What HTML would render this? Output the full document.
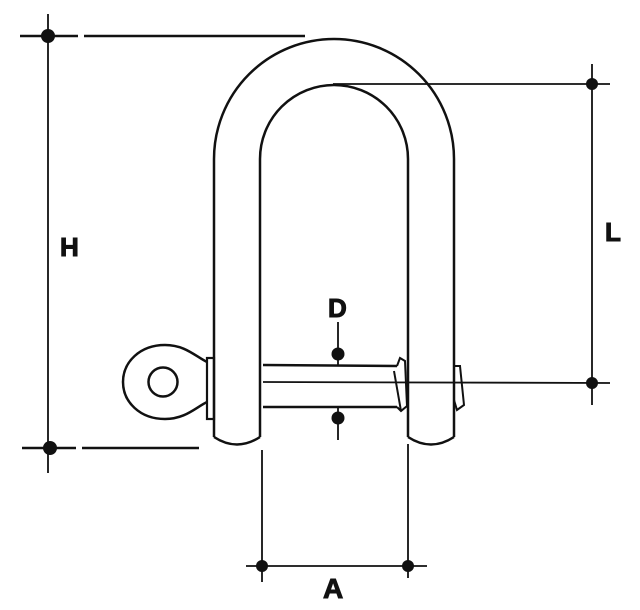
<!DOCTYPE html>
<html><head><meta charset="utf-8"><style>
html,body{margin:0;padding:0;background:#fff;}
svg{display:block;}
text{font-family:"Liberation Sans",sans-serif;font-weight:bold;fill:#111;}
</style></head><body>
<svg width="640" height="610" viewBox="0 0 640 610" xmlns="http://www.w3.org/2000/svg">
<g stroke="#111" fill="none">
 <path d="M214 437 L214 159 A120 120 0 0 1 454 159 L454 437" stroke-width="2.5"/>
 <path d="M260 437 L260 159 A74 74 0 0 1 408 159 L408 437" stroke-width="2.5"/>
 <path d="M214 437 Q237 452 260 437" stroke-width="2.5"/>
 <path d="M408 437 Q431 452 454 437" stroke-width="2.5"/>
 <path d="M207 362 C195 356 185 345 165 345 C140 345 123 362 123 382 C123 402 140 419 165 419 C185 419 195 408 207 402" stroke-width="2.5"/>
 <circle cx="163" cy="382" r="14.5" stroke-width="2.5"/>
 <rect x="207" y="358" width="7" height="61" stroke-width="2.2"/>
 <path d="M263 365 L397 366" stroke-width="2.5"/>
 <path d="M263 407 L397 407" stroke-width="2.5"/>
 <path d="M263 382 L610 383" stroke-width="1.8"/>
 <path d="M397 366 L400 358 L405 361 L407 406 L401 411 L397 407" stroke-width="2"/>
 <path d="M394 371 L401 411" stroke-width="2"/>
 <path d="M455 366 L460 366 L464 405 L457 410 L454 400" stroke-width="2"/>
 <path d="M20 36 L78 36 M84 36 L305 36" stroke-width="2.5"/>
 <path d="M48 14 L48 473" stroke-width="1.8"/>
 <path d="M22 448 L76 448 M82 448 L199 448" stroke-width="2.5"/>
 <path d="M333 84 L610 84" stroke-width="1.8"/>
 <path d="M592 64 L592 405" stroke-width="1.8"/>
 <path d="M338 322 L338 365 M338 408 L338 440" stroke-width="1.8"/>
 <path d="M262 450 L262 582 M408 444 L408 578" stroke-width="1.8"/>
 <path d="M246 566 L427 566" stroke-width="1.8"/>
</g>
<g fill="#111">
 <circle cx="48" cy="36" r="7"/>
 <circle cx="50" cy="448" r="7"/>
 <circle cx="592" cy="84" r="6"/>
 <circle cx="592" cy="383" r="6"/>
 <circle cx="338" cy="354" r="6.5"/>
 <circle cx="338" cy="418" r="6.5"/>
 <circle cx="262" cy="566" r="6"/>
 <circle cx="408" cy="566" r="6"/>
</g>
<text x="60" y="256" font-size="26" stroke="#111" stroke-width="1">H</text>
<text x="605" y="241" font-size="26" stroke="#111" stroke-width="1">L</text>
<text x="328" y="317" font-size="26" stroke="#111" stroke-width="1">D</text>
<text x="323" y="598" font-size="28" stroke="#111" stroke-width="1">A</text>
</svg>
</body></html>
